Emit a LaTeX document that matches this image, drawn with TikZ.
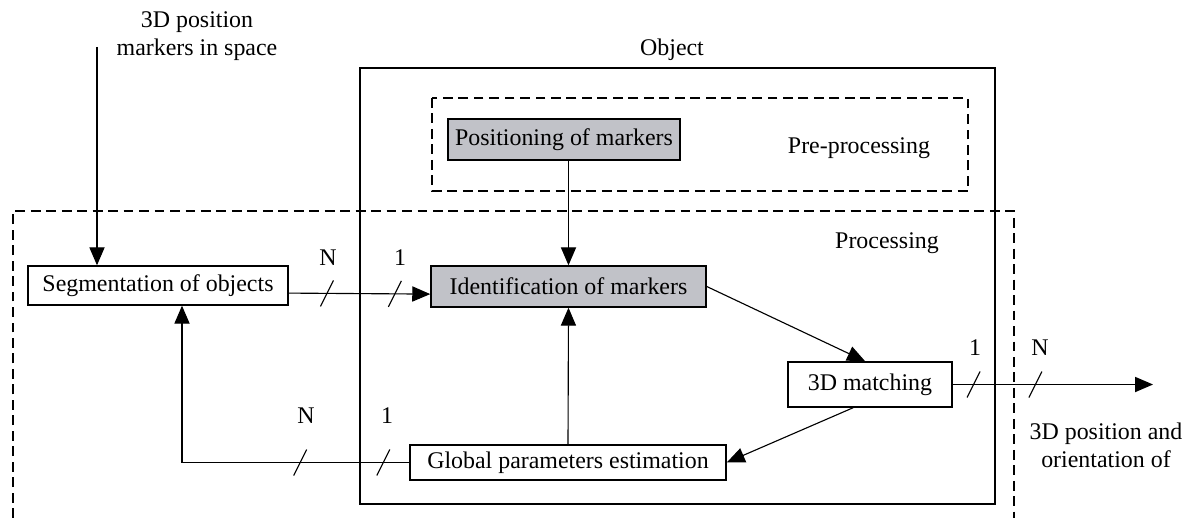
\documentclass[tikz,border=0pt]{standalone}
\usepackage{fontspec}
\setmainfont{Liberation Serif}
\usetikzlibrary{arrows.meta}
\definecolor{boxgray}{RGB}{193,194,200}

\begin{document}
\begin{tikzpicture}[
    x=0.025cm, y=-0.025cm,
    >={Triangle[length=0.45cm, width=0.38cm]},
    line width=0.8pt,
    font=\fontsize{17}{20}\selectfont,
    block/.style={draw, line width=1pt, inner sep=2pt},
    marked/.style={block, fill=boxgray},
    frame/.style={draw, line width=1pt},
    zone/.style={draw, dash pattern=on 7pt off 4pt, line width=0.9pt},
    lbl/.style={inner sep=0pt, align=center}
]
    \useasboundingbox (0,0) rectangle (1189,518);

    % Frames: object, pre-processing, processing
    \draw[frame] (360,68) rectangle (995,504);
    \draw[zone] (432,98) rectangle (968,191);
    \draw[zone] (13,518) -- (13,211) -- (1014,211) -- (1014,518);

    \node[lbl] (objlbl) at (672,50) {Object};
    \node[lbl] (prelbl) at (859,148) {Pre-processing};
    \node[lbl] (proclbl) at (887,243) {Processing};

    % Blocks
    \node[marked, minimum width=5.8cm, minimum height=1.025cm] (pos) at (564,139.5) {Positioning of markers};
    \node[block, minimum width=6.5cm, minimum height=0.975cm] (seg) at (158,285.5) {Segmentation of objects};
    \node[marked, minimum width=6.875cm, minimum height=1.025cm] (iden) at (568.5,286.5) {Identification of markers};
    \node[block, minimum width=4.1cm, minimum height=1.125cm] (match) at (870,384.5) {3D matching};
    \node[block, minimum width=7.9cm, minimum height=0.875cm] (glob) at (568,462.5) {Global parameters estimation};

    % Input and output
    \node[lbl] (intxt) at (197,36) {3D position\\markers in space};
    \node[lbl] (outtxt) at (1106,445) {3D position and\\orientation of};
    \coordinate (in) at (97,47);
    \coordinate (out) at (1153,382);
    \coordinate (back) at (182,459);

    % Arrows
    \draw[->] (in) -- (in |- seg.north);
    \draw[->] (iden.north |- pos.south) -- (iden.north);
    \draw[->] (glob.north) -- (iden.south);
    \draw[->] (iden.east) -- ([xshift=-0.12cm]match.north);
    \draw[->] ([xshift=-0.42cm]match.south) -- (glob.east);
    \draw[->] ([yshift=-0.19cm]seg.east) -- coordinate[pos=0.27] (sa) coordinate[pos=0.75] (sb) ([yshift=-0.19cm]iden.west);
    \draw[->] (glob.west) -- coordinate[pos=0.114] (sd) coordinate[pos=0.48] (sc) (glob.west -| back) -- (seg.south -| back);
    \draw[->] (match.east) -- coordinate[pos=0.104] (se) coordinate[pos=0.413] (sf) (match.east -| out);

    % Bus slashes and counts
    \foreach \s in {sa,sb,sc,sd,se,sf}
        \draw ([shift={(-6.5,13)}]\s) -- ([shift={(6.5,-13)}]\s);
    \node[lbl] (na) at (328,258) {N};
    \node[lbl] (oa) at (400,258) {1};
    \node[lbl] (nb) at (306,416) {N};
    \node[lbl] (ob) at (387,416) {1};
    \node[lbl] (oc) at (975,348) {1};
    \node[lbl] (nc) at (1040,348) {N};
\end{tikzpicture}
\end{document}
